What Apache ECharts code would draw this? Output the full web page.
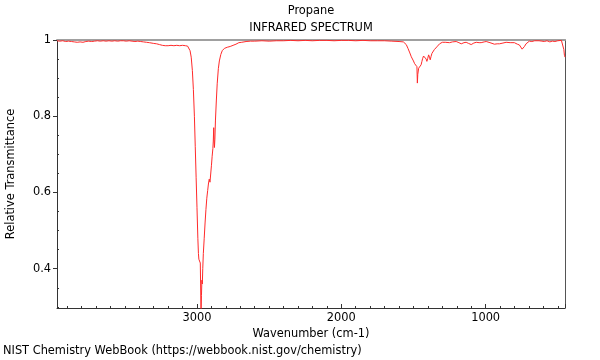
<!DOCTYPE html>
<html>
<head>
<meta charset="utf-8">
<script src="https://cdn.jsdelivr.net/npm/echarts@6/dist/echarts.min.js"></script>
<style>html,body{margin:0;padding:0;background:#fff}#c{width:600px;height:360px}</style>
</head>
<body>
<div id="c"></div>
<script>
var wavenumbers = [3970,3950,3930,3910,3890,3870,3850,3830,3810,3790,3770,3750,3730,3710,3690,3670,3650,3630,3610,3590,3570,3550,3530,3510,3490,3470,3450,3430,3410,3390,3370,3350,3330,3300,3280,3260,3240,3220,3200,3180,3160,3140,3120,3100,3080,3065,3055,3048,3040,3032,3025,3018,3012,3006,3000,2994,2990,2987,2984,2980,2977,2975,2972,2969,2966,2963,2960,2956,2950,2944,2938,2932,2926,2920,2915,2910,2905,2900,2895,2890,2887,2884,2882,2879,2876,2872,2866,2860,2852,2845,2835,2825,2810,2790,2770,2750,2730,2710,2690,2660,2630,2600,2550,2500,2450,2400,2350,2300,2250,2200,2150,2100,2050,2000,1950,1900,1850,1800,1750,1700,1650,1600,1570,1550,1538,1525,1515,1500,1492,1484,1480,1476,1473,1470,1464,1458,1453,1447,1442,1436,1430,1424,1418,1412,1407,1401,1395,1389,1384,1378,1372,1366,1361,1355,1349,1343,1338,1330,1319,1300,1280,1250,1230,1204,1185,1169,1150,1135,1118,1100,1082,1065,1045,1031,1010,996,970,939,920,904,880,858,830,801,780,766,755,747,740,731,720,709,697,680,660,648,630,610,593,575,555,538,520,500,490,475,469,462,458,454,450];
var transmittance = [0.998,0.997,0.998,0.996,0.997,0.996,0.995,0.994,0.995,0.994,0.996,0.997,0.996,0.997,0.998,0.997,0.998,0.997,0.998,0.997,0.998,0.997,0.998,0.998,0.997,0.998,0.997,0.996,0.997,0.996,0.995,0.994,0.993,0.991,0.990,0.988,0.986,0.985,0.985,0.986,0.985,0.986,0.985,0.986,0.985,0.984,0.980,0.972,0.955,0.92,0.87,0.80,0.72,0.64,0.56,0.48,0.44,0.425,0.42,0.42,0.415,0.36,0.28,0.33,0.37,0.36,0.40,0.44,0.48,0.52,0.555,0.585,0.605,0.625,0.635,0.627,0.628,0.67,0.695,0.715,0.735,0.77,0.74,0.718,0.74,0.79,0.84,0.885,0.925,0.945,0.962,0.972,0.978,0.981,0.983,0.986,0.989,0.993,0.994,0.996,0.997,0.997,0.998,0.997,0.998,0.998,0.999,0.998,0.999,0.998,0.999,0.999,0.998,0.999,0.999,0.998,0.999,0.998,0.998,0.998,0.997,0.996,0.995,0.988,0.978,0.966,0.956,0.945,0.938,0.935,0.943,0.93,0.887,0.91,0.926,0.93,0.928,0.935,0.943,0.952,0.958,0.962,0.960,0.950,0.944,0.952,0.961,0.955,0.948,0.957,0.965,0.968,0.970,0.975,0.978,0.980,0.982,0.986,0.990,0.994,0.994,0.993,0.995,0.996,0.993,0.990,0.993,0.994,0.991,0.988,0.992,0.994,0.993,0.993,0.995,0.996,0.993,0.989,0.990,0.990,0.992,0.994,0.993,0.993,0.989,0.987,0.982,0.976,0.980,0.983,0.990,0.994,0.997,0.996,0.998,0.996,0.998,0.997,0.996,0.998,0.995,0.997,0.996,0.998,0.995,0.999,1.000,0.994,0.975,0.96,0.955];
var xTickLabels = ['1000','2000','3000'];
var yTickLabels = ['0.4','0.6','0.8','1'];

var data = wavenumbers.map(function (w, i) { return [w, transmittance[i]]; });
var font = 'DejaVu Sans';
var fs = 11.4;
var chart = echarts.init(document.getElementById('c'), null, {renderer: 'canvas'});
chart.setOption({
  animation: false,
  backgroundColor: '#fff',
  textStyle: {fontFamily: font},
  title: [
    {text: 'Propane', left: 311, top: 6, textAlign: 'center', padding: 0,
     textStyle: {fontFamily: font, fontSize: fs, fontWeight: 'normal', color: '#000'}},
    {text: 'INFRARED SPECTRUM', left: 311, top: 23, textAlign: 'center', padding: 0,
     textStyle: {fontFamily: font, fontSize: fs, fontWeight: 'normal', color: '#000'}},
    {text: 'NIST Chemistry WebBook (https://webbook.nist.gov/chemistry)', left: 3, top: 346, padding: 0,
     textStyle: {fontFamily: font, fontSize: fs, fontWeight: 'normal', color: '#000'}}
  ],
  grid: {left: 57, right: 35, top: 40, bottom: 52, containLabel: false, outerBoundsMode: 'none'},
  xAxis: [
    {type: 'value', inverse: true, min: 450, max: 3970, splitNumber: 4, position: 'bottom',
     name: 'Wavenumber (cm-1)', nameLocation: 'middle', nameGap: 18,
     nameTextStyle: {fontFamily: font, fontSize: fs, color: '#000'},
     axisLine: {show: true, onZero: false, lineStyle: {color: '#333', width: 1}},
     axisTick: {show: true, inside: true, length: 4, lineStyle: {color: '#333'}},
     minorTick: {show: true, splitNumber: 10, length: 2, lineStyle: {color: '#333'}},
     axisLabel: {show: true, margin: 5, fontFamily: font, fontSize: fs, color: '#000',
       showMinLabel: false, showMaxLabel: false,
       formatter: function (v) { var s = String(v); return xTickLabels.indexOf(s) >= 0 ? s : ''; }},
     splitLine: {show: false}},
    {type: 'value', inverse: true, min: 450, max: 3970, position: 'top',
     axisLine: {show: true, onZero: false, lineStyle: {color: '#a0a0a0', width: 2}},
     axisTick: {show: false}, axisLabel: {show: false}, splitLine: {show: false}}
  ],
  yAxis: [
    {type: 'value', min: 0.297, max: 1, splitNumber: 4, position: 'left',
     name: 'Relative Transmittance', nameLocation: 'middle', nameGap: 40,
     nameTextStyle: {fontFamily: font, fontSize: fs, color: '#000'},
     axisLine: {show: true, onZero: false, lineStyle: {color: '#333', width: 1}},
     axisTick: {show: true, inside: false, length: 4, lineStyle: {color: '#333'}},
     axisLabel: {show: true, margin: 6, fontFamily: font, fontSize: fs, color: '#000',
       showMinLabel: false,
       formatter: function (v) { var s = String(Math.round(v * 10) / 10); return yTickLabels.indexOf(s) >= 0 ? s : ''; }},
     splitLine: {show: false}},
    {type: 'value', min: 0.297, max: 1, splitNumber: 4, position: 'left', offset: 0,
     axisLine: {show: false, onZero: false},
     axisTick: {show: false, inside: true},
     minorTick: {show: true, splitNumber: 4, length: 2, lineStyle: {color: '#333'}},
     axisLabel: {show: false}, splitLine: {show: false}},
    {type: 'value', min: 0.297, max: 1, position: 'right',
     axisLine: {show: true, onZero: false, lineStyle: {color: '#555', width: 1}},
     axisTick: {show: false}, axisLabel: {show: false}, splitLine: {show: false}}
  ],
  series: [{
    type: 'line', data: data, xAxisIndex: 0, yAxisIndex: 0,
    showSymbol: false, symbol: 'none', clip: true,
    lineStyle: {color: '#ff2a2a', width: 1}
  }]
});
</script>
</body>
</html>
